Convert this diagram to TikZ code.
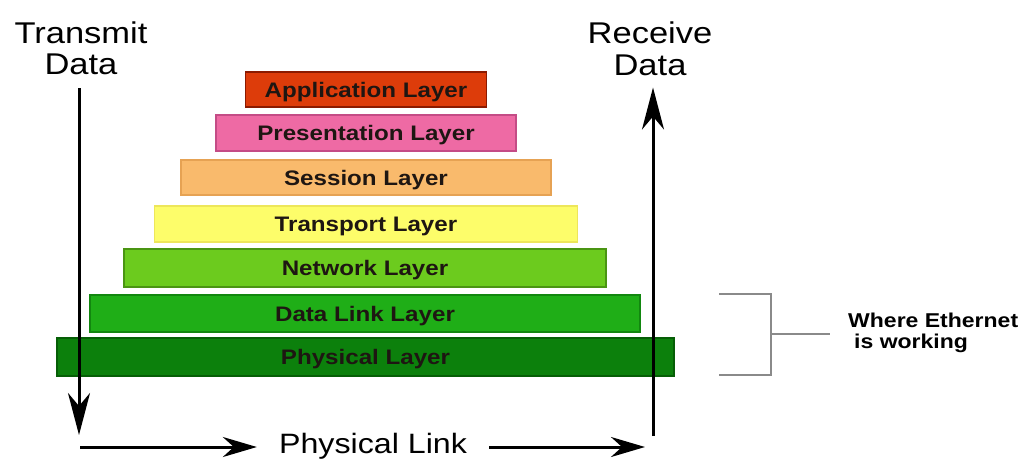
\documentclass[tikz,border=0pt]{standalone}
\usepackage{fontspec}
\usepackage{graphicx}
\setmainfont{Liberation Sans}
\usetikzlibrary{arrows.meta}

% horizontally widened lettering
\newcommand{\widetext}[1]{\scalebox{1.15}[1]{#1}}

\definecolor{appfill}{HTML}{DD3C0A}\definecolor{appline}{HTML}{8B1A00}
\definecolor{presfill}{HTML}{EE6AA4}\definecolor{presline}{HTML}{C44C86}
\definecolor{sessfill}{HTML}{F9BA6C}\definecolor{sessline}{HTML}{E6A253}
\definecolor{transfill}{HTML}{FDFD6A}\definecolor{transline}{HTML}{EDE65A}
\definecolor{netfill}{HTML}{6CCB1E}\definecolor{netline}{HTML}{4A9512}
\definecolor{dlfill}{HTML}{1FAE17}\definecolor{dlline}{HTML}{12870F}
\definecolor{physfill}{HTML}{0C800C}\definecolor{physline}{HTML}{065E06}
\definecolor{labeltext}{HTML}{1E1612}
\definecolor{bracketgrey}{HTML}{8A8A8A}

\tikzset{
  layer/.style={draw, line width=1.6pt, rectangle, inner sep=0pt,
    text height=15pt, text depth=0pt,
    text=labeltext, font=\fontsize{21}{24}\selectfont\bfseries},
  bigtext/.style={inner sep=0pt, font=\fontsize{30}{32}\selectfont},
  notetext/.style={inner sep=0pt, font=\fontsize{20}{22}\selectfont\bfseries},
  flow/.style={line width=3pt,
    -{Stealth[length=42pt,width=22pt,inset=13pt]}},
  linkflow/.style={line width=3pt,
    -{Stealth[length=34pt,width=20pt,inset=11pt]}},
  bracket/.style={draw=bracketgrey, line width=2.6pt}
}

\begin{document}
\begin{tikzpicture}[x=1pt,y=-1pt]
\useasboundingbox (0,0) rectangle (1024,463);

% OSI layer stack
\node[layer, fill=appfill, draw=appline, minimum width=241pt, minimum height=35pt]
  (app) at (366,89.5) {\widetext{Application Layer}};
\node[layer, fill=presfill, draw=presline, minimum width=300pt, minimum height=36pt]
  (pres) at (366,133) {\widetext{Presentation Layer}};
\node[layer, fill=sessfill, draw=sessline, minimum width=370pt, minimum height=35pt]
  (sess) at (366,177.5) {\widetext{Session Layer}};
\node[layer, fill=transfill, draw=transline, minimum width=423pt, minimum height=36pt]
  (trans) at (366,224) {\widetext{Transport Layer}};
\node[layer, fill=netfill, draw=netline, minimum width=482pt, minimum height=38pt]
  (net) at (365,268) {\widetext{Network Layer}};
\node[layer, fill=dlfill, draw=dlline, minimum width=550pt, minimum height=37pt]
  (dl) at (365,313.5) {\widetext{Data Link Layer}};
\node[layer, fill=physfill, draw=physline, minimum width=617pt, minimum height=38pt]
  (phys) at (365.5,357) {\widetext{Physical Layer}};

% side captions
\node[bigtext, anchor=base] (tx1) at (81,43) {\widetext{Transmit}};
\node[bigtext, anchor=base] (tx2) at (81,74) {\widetext{Data}};
\node[bigtext, anchor=base] (rx1) at (650,43) {\widetext{Receive}};
\node[bigtext, anchor=base] (rx2) at (650,75) {\widetext{Data}};
\node[inner xsep=22pt, inner ysep=0pt, font=\fontsize{28}{30}\selectfont, anchor=base]
  (plink) at (373,453) {\widetext{Physical Link}};

% data flow arrows
\coordinate (txend) at (79,435);
\coordinate (rxstart) at (653,436);
\coordinate (linkstart) at (80,447);
\coordinate (linkend) at (645,447);
\draw[flow] (tx2.south -| txend) ++(0,14) -- (txend);
\draw[flow] (rxstart) -- ([yshift=-12pt]rx2.south -| rxstart);
\draw[linkflow] (linkstart) -- (linkstart -| plink.west);
\draw[linkflow] (linkstart -| plink.east) -- (linkend);

% bracket marking the Ethernet layers
\coordinate (brtl) at (719,294);
\coordinate (brtr) at (771,294);
\coordinate (brbl) at (719,375);
\coordinate (brbr) at (771,375);
\coordinate (brmid) at (771,334);
\coordinate (brtick) at (830,334);
\draw[bracket] (brtl) -- (brtr) -- (brbr) -- (brbl);
\draw[bracket] (brmid) -- (brtick);
\node[notetext, anchor=base west] (eth1) at (848,327) {\widetext{Where Ethernet}};
\node[notetext, anchor=base west] (eth2) at (854,348) {\widetext{is working}};
\end{tikzpicture}
\end{document}
